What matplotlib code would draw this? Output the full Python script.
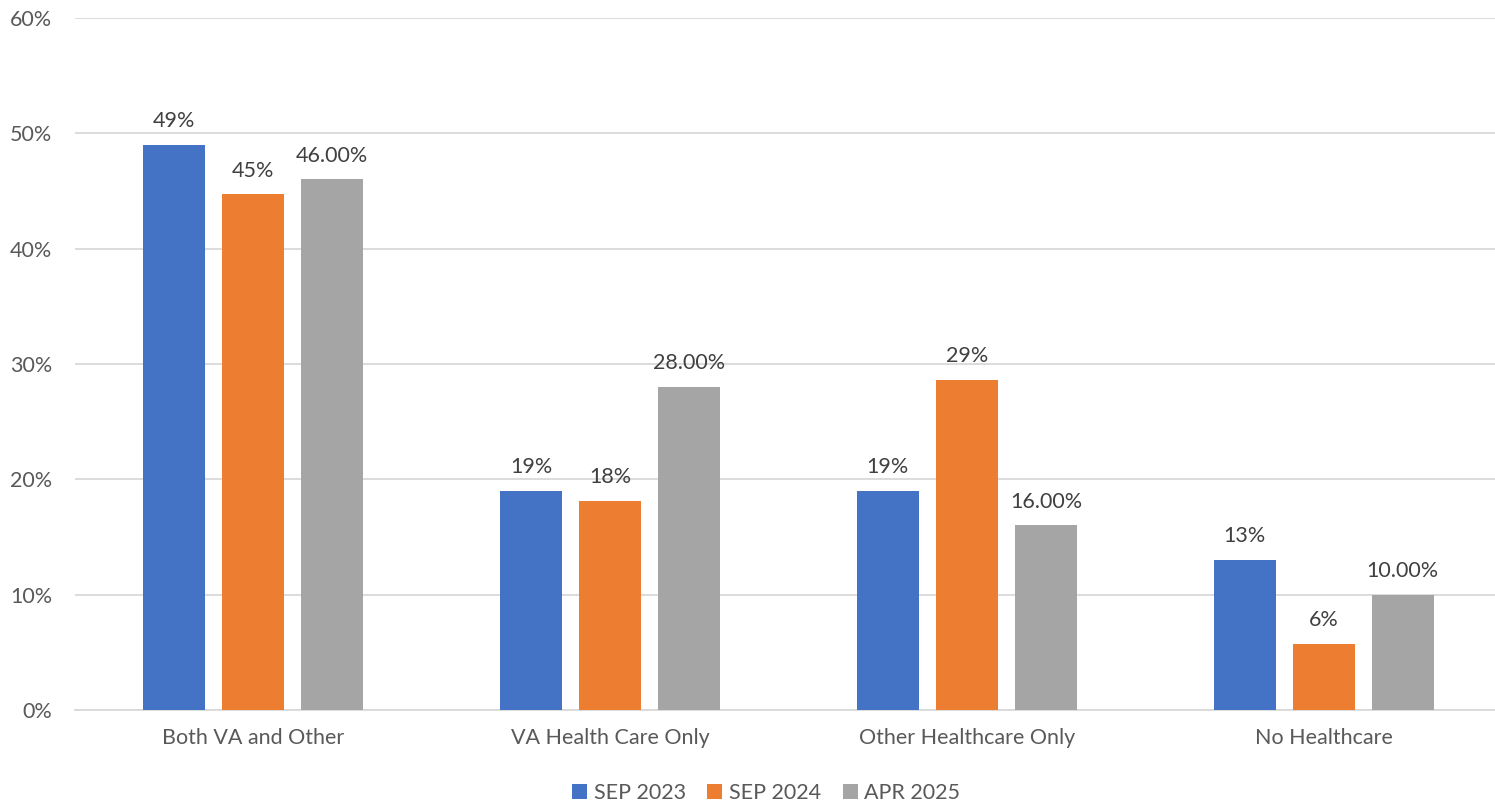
import matplotlib
matplotlib.use("Agg")
import matplotlib.pyplot as plt
import numpy as np

categories = ["Both VA and Other", "VA Health Care Only", "Other Healthcare Only", "No Healthcare"]
series_names = ["SEP 2023", "SEP 2024", "APR 2025"]
sep2023 = [49.0, 19.0, 19.0, 13.0]
sep2024 = [44.7, 18.1, 28.6, 5.7]
apr2025 = [46.0, 28.0, 16.0, 10.0]
labels_2023 = ["49%", "19%", "19%", "13%"]
labels_2024 = ["45%", "18%", "29%", "6%"]
labels_2025 = ["46.00%", "28.00%", "16.00%", "10.00%"]
yticks = [0, 10, 20, 30, 40, 50, 60]
ytick_labels = ["0%", "10%", "20%", "30%", "40%", "50%", "60%"]

colors = ["#4472C4", "#ED7D31", "#A5A5A5"]
text_color = "#595959"

plt.rcParams['font.family'] = ['Lato', 'DejaVu Sans']
fs = 15.5

fig = plt.figure(figsize=(14.95, 8.05), dpi=100)
ax = fig.add_axes([75/1495, 1 - 710/805, (1502 - 75)/1495, (710 - 18)/805])

x = np.arange(len(categories))
step = 0.2214
width = 0.174
all_vals = [sep2023, sep2024, apr2025]
all_labels = [labels_2023, labels_2024, labels_2025]
for i, (vals, labs) in enumerate(zip(all_vals, all_labels)):
    bars = ax.bar(x + (i - 1) * step, vals, width=width, color=colors[i],
                  label=series_names[i], zorder=3)
    for b, lab in zip(bars, labs):
        ax.text(b.get_x() + b.get_width() / 2, b.get_height() + 1.2, lab,
                ha='center', va='bottom', fontsize=fs, color="#404040")

ax.set_xlim(-0.5, len(categories) - 0.5)
ax.set_ylim(0, 60)
ax.set_yticks(yticks)
ax.set_yticklabels(ytick_labels)
ax.set_xticks(x)
ax.set_xticklabels(categories)
ax.tick_params(axis='both', length=0, labelsize=fs, colors=text_color)
ax.tick_params(axis='y', pad=16.5)
ax.tick_params(axis='x', pad=13)
ax.grid(axis='y', color="#D9D9D9", linewidth=1.3, zorder=0)
for s in ['top', 'right', 'left']:
    ax.spines[s].set_visible(False)
ax.spines['bottom'].set_color("#D9D9D9")
ax.spines['bottom'].set_linewidth(1.3)

leg = fig.legend(loc='center', bbox_to_anchor=(0.5125, 1 - 793/805), ncol=3,
                 frameon=False, fontsize=fs, handlelength=0.7, handleheight=0.7,
                 handletextpad=0.3, columnspacing=1.0)
for t in leg.get_texts():
    t.set_color(text_color)

fig.savefig("out.png", dpi=100)
